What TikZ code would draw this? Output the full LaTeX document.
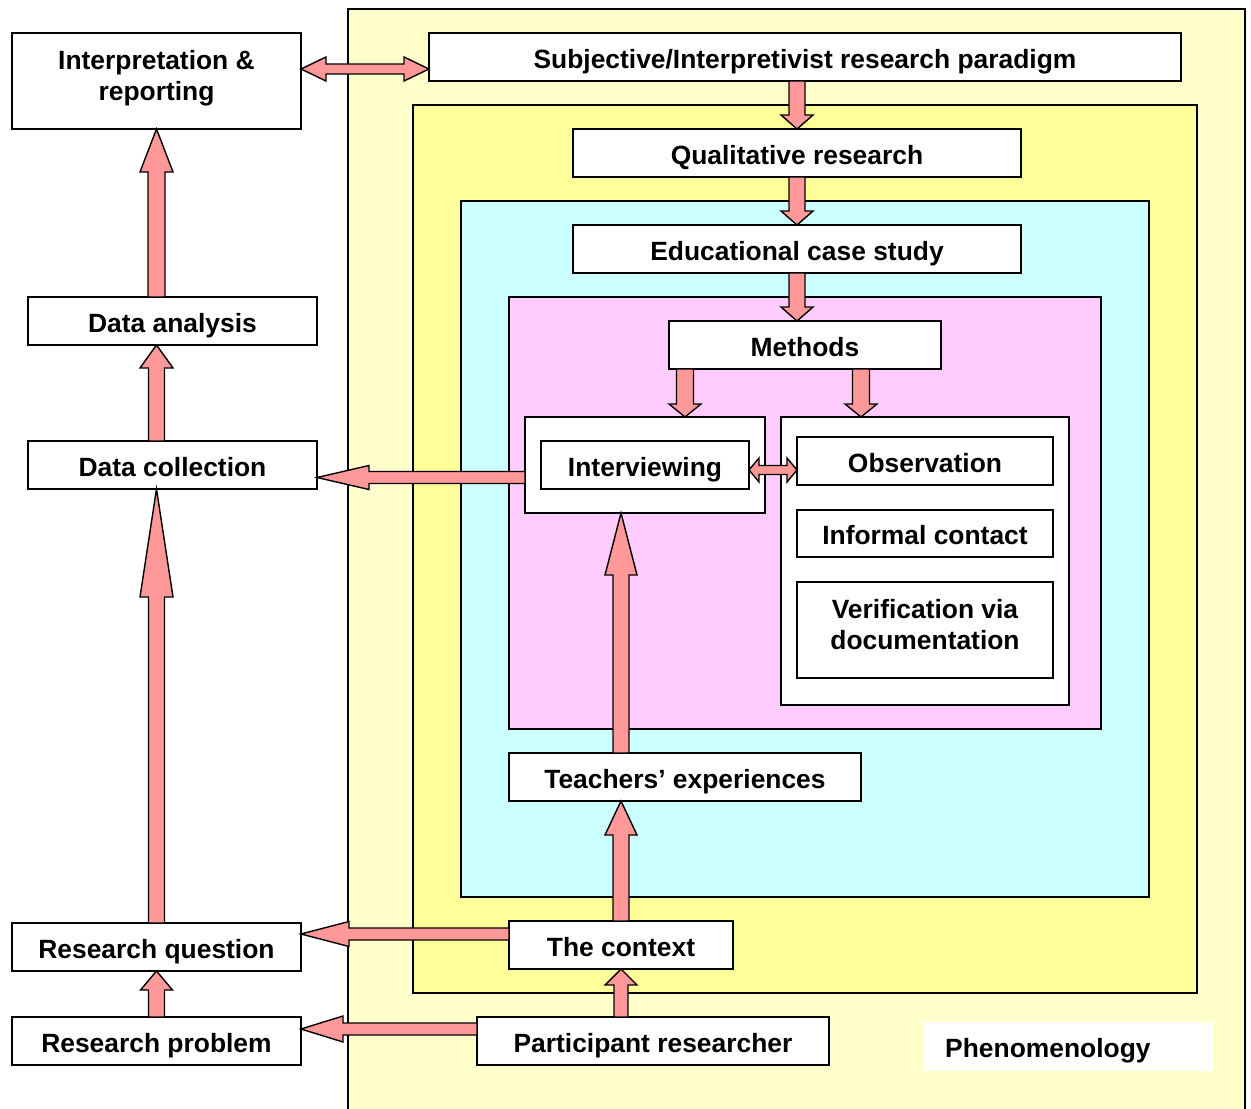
\documentclass[tikz,border=0pt]{standalone}
\usepackage{fontspec}
\setmainfont{Liberation Sans}
\usetikzlibrary{calc}
\definecolor{lyel}{HTML}{FFFFCC}
\definecolor{yel}{HTML}{FFFF99}
\definecolor{lcyan}{HTML}{CCFFFF}
\definecolor{lpink}{HTML}{FFCCFF}
\definecolor{arrowred}{HTML}{FF9999}
\tikzset{
  sz/.style 2 args={minimum width=#1pt, minimum height=#2pt},
  frame/.style={draw=black, line width=1.8pt, inner sep=0pt, outer sep=0pt},
  box/.style={draw=black, line width=1.8pt, fill=white, inner sep=0pt, outer sep=0pt,
    font=\bfseries\fontsize{26.4}{31}\selectfont, text height=22pt, text depth=0pt},
  boxtwo/.style={draw=black, line width=1.8pt, fill=white, inner sep=0pt, outer sep=0pt,
    font=\bfseries\fontsize{26.4}{31}\selectfont, align=center, text depth=12pt},
  blockarrow/.style={draw=black, line width=1.4pt, fill=arrowred, line join=miter},
  lbl/.style={font=\bfseries\fontsize{26.4}{31}\selectfont, inner sep=0pt}
}
% single block arrow: #1 start, #2 tip, #3 shaft half width, #4 head half width, #5 head length
\newcommand\barrow[5]{%
  \coordinate (bA) at (#1); \coordinate (bB) at (#2);
  \coordinate (bC) at ($(bB)!#5!(bA)$);
  \draw[blockarrow] ($(bA)!#3!90:(bB)$) -- ($(bC)!#3!90:(bB)$) -- ($(bC)!#4!90:(bB)$)
    -- (bB) -- ($(bC)!#4!-90:(bB)$) -- ($(bC)!#3!-90:(bB)$) -- ($(bA)!#3!-90:(bB)$) -- cycle;}
% double block arrow
\newcommand\dbarrow[5]{%
  \coordinate (bA) at (#1); \coordinate (bB) at (#2);
  \coordinate (bC) at ($(bB)!#5!(bA)$);
  \coordinate (bD) at ($(bA)!#5!(bB)$);
  \draw[blockarrow] (bA) -- ($(bD)!#4!-90:(bB)$) -- ($(bD)!#3!-90:(bB)$) -- ($(bC)!#3!-90:(bB)$)
    -- ($(bC)!#4!-90:(bB)$) -- (bB) -- ($(bC)!#4!90:(bB)$) -- ($(bC)!#3!90:(bB)$)
    -- ($(bD)!#3!90:(bB)$) -- ($(bD)!#4!90:(bB)$) -- cycle;}
\begin{document}
\begin{tikzpicture}[x=1pt,y=-1pt]
\useasboundingbox (0,0) rectangle (1251,1109);
% frames
\node[frame, fill=lyel, sz={897}{1116}] (fphen) at (796.5,567) {};
\node[frame, fill=yel, sz={784}{888}] (fqual) at (805,549) {};
\node[frame, fill=lcyan, sz={688}{696}] (fcase) at (805,549) {};
\node[frame, fill=lpink, sz={592}{432}] (fmeth) at (805,513) {};
% phenomenology label
\node[fill=white, inner sep=0pt, sz={289}{49}] (phenbox) at (1068.5,1046.5) {};
\node[lbl, anchor=base west] (phen) at (945,1057) {Phenomenology};
% boxes
\node[boxtwo, sz={289}{96}] (interp) at (156.5,81) {Interpretation \&\\reporting};
\node[box, sz={752}{48}] (subj) at (805,57) {Subjective/Interpretivist research paradigm};
\node[box, sz={448}{48}] (qual) at (797,153) {Qualitative research};
\node[box, sz={448}{48}] (edu) at (797,249) {Educational case study};
\node[box, sz={272}{48}] (meth) at (805,345) {Methods};
\node[box, sz={240}{96}] (intvout) at (645,465) {};
\node[box, sz={208}{48}] (intv) at (645,465) {Interviewing};
\node[box, sz={288}{288}] (obsgrp) at (925,561) {};
\node[box, sz={256}{48}] (obs) at (925,461) {Observation};
\node[box, sz={256}{47}] (inf) at (925,533.5) {Informal contact};
\node[boxtwo, sz={256}{96}] (verif) at (925,630) {Verification via\\documentation};
\node[box, sz={352}{48}] (teach) at (685,777) {Teachers’ experiences};
\node[box, sz={224}{48}] (ctx) at (621,945) {The context};
\node[box, sz={352}{48}] (part) at (653,1041) {Participant researcher};
\node[box, sz={289}{48}] (rq) at (156.5,947) {Research question};
\node[box, sz={289}{48}] (rp) at (156.5,1041) {Research problem};
\node[box, sz={289}{48}] (dc) at (172.5,465) {Data collection};
\node[box, sz={289}{48}] (da) at (172.5,321) {Data analysis};
% helper coordinates for arrow positions
\coordinate (ya) at (0,69);
\coordinate (xa) at (685,0);
\coordinate (xb) at (861,0);
\coordinate (yb) at (0,470);
\coordinate (yc) at (0,477.5);
\coordinate (xc) at (621,0);
\coordinate (yd) at (0,934);
\coordinate (ye) at (0,1029);
% arrows
\dbarrow{interp.east |- ya}{subj.west |- ya}{5pt}{12pt}{25pt}
\barrow{subj.south -| qual.north}{qual.north}{8pt}{16pt}{14pt}
\barrow{qual.south}{edu.north}{8pt}{16pt}{14pt}
\barrow{edu.south}{meth.north -| edu.south}{8pt}{16pt}{14pt}
\barrow{meth.south -| xa}{intvout.north -| xa}{8.5pt}{16pt}{13pt}
\barrow{meth.south -| xb}{obsgrp.north -| xb}{8.5pt}{16pt}{13pt}
\dbarrow{intv.east |- yb}{obs.west |- yb}{4.5pt}{12pt}{10pt}
\barrow{intvout.west |- yc}{dc.east |- yc}{6pt}{12pt}{52pt}
\barrow{teach.north -| xc}{intvout.south -| xc}{8pt}{16pt}{62pt}
\barrow{ctx.north -| xc}{teach.south -| xc}{8pt}{16pt}{34pt}
\barrow{part.north -| xc}{ctx.south}{7pt}{16pt}{16pt}
\barrow{ctx.west |- yd}{rq.east |- yd}{6pt}{12.5pt}{48pt}
\barrow{part.west |- ye}{rp.east |- ye}{6pt}{13pt}{42pt}
\barrow{rp.north}{rq.south}{8pt}{16pt}{19pt}
\barrow{rq.north}{dc.south -| rq.north}{8pt}{16.5pt}{108pt}
\barrow{dc.north -| rq.north}{da.south -| rq.north}{8pt}{16.5pt}{23pt}
\barrow{da.north -| rq.north}{interp.south}{8.5pt}{16.5pt}{43pt}
\end{tikzpicture}
\end{document}
